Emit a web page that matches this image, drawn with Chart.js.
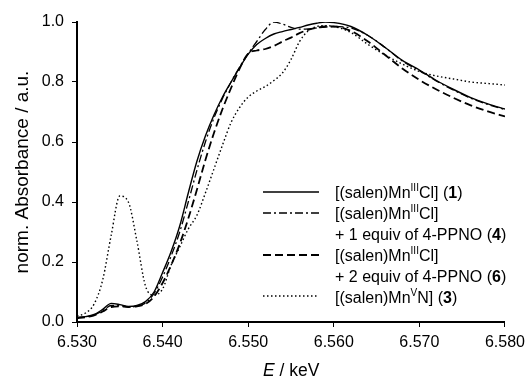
<!DOCTYPE html>
<html>
<head>
<meta charset="utf-8">
<script src="https://cdn.jsdelivr.net/npm/chart.js@4.4.1/dist/chart.umd.min.js"></script>
<style>
  html, body { margin: 0; padding: 0; background: #fff; }
  #wrap { position: relative; width: 531px; height: 383px; font-family: "Liberation Sans", Arial, sans-serif; color: #000; }
  canvas { position: absolute; left: 0; top: 0; }
  .lg { position: absolute; font-size: 16px; line-height: 21px; white-space: nowrap; }
  .lg sup { font-size: 10px; line-height: 0; position: relative; top: -1px; vertical-align: super; }
  .xt { position: absolute; font-size: 17.5px; line-height: 21px; white-space: nowrap; }
  svg { position: absolute; left: 0; top: 0; }
</style>
</head>
<body>
<div id="wrap">
  <canvas id="c" width="531" height="383"></canvas>
  <svg width="531" height="383">
    <line x1="263" y1="192" x2="319" y2="192" stroke="#000" stroke-width="1.5"/>
    <line x1="263" y1="213" x2="319" y2="213" stroke="#000" stroke-width="1.3" stroke-dasharray="8,3,2,3"/>
    <line x1="263" y1="255" x2="319" y2="255" stroke="#000" stroke-width="2" stroke-dasharray="8,4"/>
    <line x1="263" y1="296" x2="319" y2="296" stroke="#000" stroke-width="1.4" stroke-dasharray="1.5,2.5"/>
  </svg>
  <div class="lg" style="left:335px;top:182px">[(salen)Mn<sup>III</sup>Cl] (<b>1</b>)</div>
  <div class="lg" style="left:335px;top:203px">[(salen)Mn<sup>III</sup>Cl]</div>
  <div class="lg" style="left:335px;top:224px">+ 1 equiv of 4-PPNO (<b>4</b>)</div>
  <div class="lg" style="left:335px;top:245px">[(salen)Mn<sup>III</sup>Cl]</div>
  <div class="lg" style="left:335px;top:266px">+ 2 equiv of 4-PPNO (<b>6</b>)</div>
  <div class="lg" style="left:335px;top:287px">[(salen)Mn<sup>V</sup>N] (<b>3</b>)</div>
  <div class="xt" style="left:263px;top:360px"><i>E</i> / keV</div>
</div>
<script>
const energies = [6.530, 6.531, 6.532, 6.533, 6.534, 6.535, 6.536, 6.537, 6.538, 6.539,
                  6.540, 6.541, 6.542, 6.543, 6.544, 6.545, 6.546, 6.547, 6.548, 6.549,
                  6.550, 6.551, 6.552, 6.553, 6.554, 6.555, 6.556, 6.557, 6.558, 6.559,
                  6.560, 6.562, 6.564, 6.566, 6.568, 6.570, 6.572, 6.574, 6.576, 6.578, 6.580];

const series1 = [0.015, 0.018, 0.025, 0.042, 0.062, 0.058, 0.052, 0.055, 0.068, 0.100,
                 0.165, 0.235, 0.320, 0.430, 0.535, 0.620, 0.690, 0.750, 0.800, 0.848,
                 0.893, 0.925, 0.945, 0.960, 0.968, 0.975, 0.982, 0.990, 0.996, 1.000,
                 0.998, 0.985, 0.955, 0.915, 0.872, 0.840, 0.805, 0.775, 0.748, 0.727, 0.710];

const series4 = [0.015, 0.017, 0.023, 0.038, 0.055, 0.055, 0.050, 0.053, 0.063, 0.095,
                 0.150, 0.220, 0.300, 0.400, 0.505, 0.600, 0.680, 0.745, 0.800, 0.850,
                 0.895, 0.935, 0.975, 1.000, 0.993, 0.982, 0.976, 0.977, 0.980, 0.983,
                 0.985, 0.980, 0.955, 0.915, 0.870, 0.838, 0.803, 0.773, 0.746, 0.725, 0.708];

const series6 = [0.013, 0.016, 0.022, 0.035, 0.050, 0.052, 0.050, 0.052, 0.060, 0.085,
                 0.130, 0.190, 0.260, 0.345, 0.440, 0.540, 0.630, 0.710, 0.780, 0.845,
                 0.895, 0.905, 0.910, 0.920, 0.935, 0.948, 0.963, 0.974, 0.981, 0.985,
                 0.985, 0.970, 0.935, 0.890, 0.845, 0.807, 0.775, 0.747, 0.722, 0.702, 0.685];

const series3 = [0.020, 0.030, 0.060, 0.140, 0.290, 0.420, 0.400, 0.270, 0.120, 0.090,
                 0.110, 0.190, 0.250, 0.310, 0.355, 0.430, 0.510, 0.590, 0.665, 0.715,
                 0.750, 0.770, 0.785, 0.805, 0.830, 0.875, 0.935, 0.970, 0.985, 0.988,
                 0.985, 0.965, 0.925, 0.890, 0.860, 0.835, 0.820, 0.810, 0.800, 0.795, 0.790];

const xTicks = [6.530, 6.540, 6.550, 6.560, 6.570, 6.580];
const yTicks = [0.0, 0.2, 0.4, 0.6, 0.8, 1.0];

const seriesLabels = ["[(salen)MnIIICl] (1)", "[(salen)MnIIICl] + 1 equiv of 4-PPNO (4)",
                      "[(salen)MnIIICl] + 2 equiv of 4-PPNO (6)", "[(salen)MnVN] (3)"];

function pts(vals) { return energies.map((e, i) => ({ x: e, y: vals[i] })); }

const common = { borderColor: "#000", pointRadius: 0, fill: false, cubicInterpolationMode: "monotone" };

new Chart(document.getElementById("c"), {
  type: "line",
  data: {
    datasets: [
      Object.assign({ label: seriesLabels[3], data: pts(series3), borderWidth: 1.4, borderDash: [1.5, 2.5] }, common),
      Object.assign({ label: seriesLabels[2], data: pts(series6), borderWidth: 1.8, borderDash: [8, 4] }, common),
      Object.assign({ label: seriesLabels[1], data: pts(series4), borderWidth: 1.3, borderDash: [8, 3, 2, 3] }, common),
      Object.assign({ label: seriesLabels[0], data: pts(series1), borderWidth: 1.4 }, common)
    ]
  },
  options: {
    responsive: false,
    animation: false,
    devicePixelRatio: 1,
    layout: { padding: { left: 0, right: 23, top: 22, bottom: 0 } },
    plugins: { legend: { display: false }, tooltip: { enabled: false } },
    scales: {
      x: {
        type: "linear",
        min: 6.530, max: 6.580,
        afterBuildTicks: s => { s.ticks = xTicks.map(v => ({ value: v })); },
        afterFit: s => { s.height = 61; },
        ticks: {
          color: "#000",
          font: { family: "Liberation Sans", size: 16 },
          padding: 6,
          maxRotation: 0,
          callback: v => v.toFixed(3)
        },
        grid: { drawOnChartArea: false, drawTicks: true, tickLength: 5, color: "#000", tickColor: "#000", tickWidth: 1 },
        border: { display: true, color: "#000", width: 2 },
        title: { display: false }
      },
      y: {
        min: 0, max: 1,
        afterBuildTicks: s => { s.ticks = yTicks.map(v => ({ value: v })); },
        afterFit: s => { s.width = 77; },
        ticks: {
          color: "#000",
          font: { family: "Liberation Sans", size: 16 },
          padding: 8,
          callback: v => v.toFixed(1)
        },
        grid: { drawOnChartArea: false, drawTicks: true, tickLength: 5, color: "#000", tickColor: "#000", tickWidth: 1 },
        border: { display: true, color: "#000", width: 2 },
        title: {
          display: true,
          text: "norm. Absorbance / a.u.",
          color: "#000",
          font: { family: "Liberation Sans", size: 19 },
          padding: { top: 11, bottom: 0 }
        }
      }
    }
  }
});
</script>
</body>
</html>
